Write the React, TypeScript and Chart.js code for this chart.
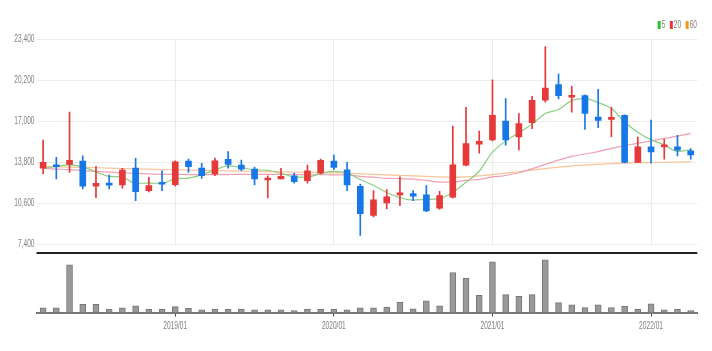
import React, { useEffect, useRef } from "react";
import { Chart, registerables } from "chart.js";
Chart.register(...registerables);

const months = [
  "2018/03", "2018/04", "2018/05", "2018/06", "2018/07", "2018/08", "2018/09", "2018/10", "2018/11", "2018/12",
  "2019/01", "2019/02", "2019/03", "2019/04", "2019/05", "2019/06", "2019/07", "2019/08", "2019/09", "2019/10", "2019/11", "2019/12",
  "2020/01", "2020/02", "2020/03", "2020/04", "2020/05", "2020/06", "2020/07", "2020/08", "2020/09", "2020/10", "2020/11", "2020/12",
  "2021/01", "2021/02", "2021/03", "2021/04", "2021/05", "2021/06", "2021/07", "2021/08", "2021/09", "2021/10", "2021/11", "2021/12",
  "2022/01", "2022/02", "2022/03", "2022/04",
];

const opens = [
  13325, 13560, 13612, 13868, 11907, 12163, 12008, 13325, 11566, 12217,
  12031, 13868, 13325, 12860, 14000, 13557, 13247, 12395, 12472, 12729,
  12341, 12938, 13868, 13194, 11907, 9628, 10612, 11232, 11333, 11232,
  10202, 11054, 13557, 15185, 15518, 17000, 15751, 16867, 18618, 19835,
  18851, 18983, 17300, 17122, 17433, 13767, 14976, 14976, 14976, 14666,
];
const highs = [
  15518, 14155, 17688, 14278, 13457, 12783, 13302, 14077, 12604, 13115,
  13890, 14023, 13690, 14100, 14620, 13945, 13400, 12729, 13302, 12938,
  13557, 14023, 14333, 13767, 12085, 11566, 11644, 12650, 11566, 11953,
  11520, 16603, 18076, 16216, 20223, 18750, 17588, 18929, 22803, 20664,
  19703, 19050, 19478, 18076, 17480, 15751, 17070, 15570, 15882, 14853,
];
const lows = [
  12860, 12470, 12992, 11698, 11023, 11698, 11752, 10790, 11465, 11566,
  11907, 12992, 12527, 12729, 13325, 13115, 12008, 10998, 12472, 12140,
  12140, 12860, 13192, 11566, 8078, 9505, 10147, 10400, 10790, 9930,
  10093, 10977, 13500, 14488, 15440, 15108, 14743, 16402, 18463, 18727,
  17688, 16348, 16480, 15782, 13720, 13767, 13713, 14023, 14278, 14023,
];
const closes = [
  13767, 13430, 13922, 11907, 12140, 11985, 13170, 11490, 11953, 12062,
  13813, 13426, 12729, 13891, 13612, 13247, 12472, 12550, 12683, 12264,
  13115, 13922, 13380, 12008, 9760, 10845, 11077, 11365, 11130, 9978,
  11179, 13581, 15239, 15418, 17433, 15518, 16790, 18618, 19579, 18983,
  18983, 17588, 17045, 17254, 13767, 14976, 14588, 15108, 14720, 14355,
];

const ma5 = [
  13300, 13450, 13580, 13420, 13033, 12677, 12625, 12138, 12148, 12132,
  12498, 12549, 12797, 13184, 13494, 13381, 13190, 13154, 12913, 12643,
  12617, 12907, 13073, 12938, 12437, 11983, 11414, 11011, 10835, 10879,
  10946, 11447, 12221, 13079, 14570, 15438, 16080, 16755, 17588, 17898,
  18591, 18750, 18436, 17971, 16927, 16126, 15526, 15139, 14632, 14749,
];
const ma20 = [
  13300, 13250, 13200, 13130, 13070, 13010, 12960, 12910, 12870, 12840,
  12830, 12820, 12810, 12810, 12820, 12830, 12830, 12830, 12830, 12826,
  12793, 12818, 12791, 12796, 12677, 12620, 12515, 12509, 12468, 12363,
  12232, 12239, 12365, 12441, 12632, 12746, 12962, 13265, 13610, 13946,
  14239, 14423, 14606, 14868, 15069, 15275, 15451, 15638, 15817, 16036,
];
const ma60 = [
  13450, 13420, 13400, 13380, 13350, 13320, 13290, 13260, 13240, 13210,
  13190, 13170, 13150, 13130, 13110, 13090, 13070, 13050, 13030, 13010,
  12990, 12970, 12950, 12930, 12880, 12840, 12800, 12760, 12720, 12680,
  12640, 12620, 12640, 12710, 12820, 12930, 13040, 13160, 13290, 13400,
  13500, 13560, 13620, 13670, 13710, 13740, 13760, 13780, 13800, 13815,
];

const volumes = [
  470, 470, 4800, 830, 830, 330, 470, 670, 330, 330,
  600, 430, 270, 330, 330, 330, 270, 270, 270, 200,
  330, 330, 330, 270, 470, 470, 530, 1030, 370, 1170,
  670, 4030, 3470, 1730, 5100, 1800, 1630, 1800, 5300, 1000,
  770, 500, 770, 500, 630, 330, 870, 270, 330, 200,
];

const legendItems = [
  { label: "5", color: "#33bb33" },
  { label: "20", color: "#e83535" },
  { label: "60", color: "#f7941d" },
];

const FONT = "'Liberation Sans', Arial, sans-serif";
const SQX = 0.6;
const TEXT_COLOR = "#808080";
const UP = "#e5393a";
const DOWN = "#1877e6";
const isJan = (i: number) => months[i] !== undefined && months[i].endsWith("/01");

function squishText(ctx: CanvasRenderingContext2D, text: string, x: number, y: number, align: CanvasTextAlign) {
  ctx.save();
  ctx.font = `11px ${FONT}`;
  ctx.fillStyle = TEXT_COLOR;
  ctx.textBaseline = "middle";
  ctx.textAlign = align;
  ctx.translate(x, y);
  ctx.scale(SQX, 1);
  ctx.fillText(text, 0, 0);
  ctx.restore();
}

export default function App() {
  const topRef = useRef<HTMLCanvasElement>(null);
  const volRef = useRef<HTMLCanvasElement>(null);

  useEffect(() => {
    const colors = opens.map((o, i) => (closes[i] >= o ? UP : DOWN));

    const topTextPlugin = {
      id: "topText",
      afterDraw(chart: any) {
        const ctx = chart.ctx as CanvasRenderingContext2D;
        // y labels
        const s = chart.scales.y;
        s.ticks.forEach((t: any) => {
          const y = s.getPixelForValue(t.value);
          squishText(ctx, Number(t.value).toLocaleString("en-US"), 34.5, y, "right");
        });
        // legend
        ctx.save();
        ctx.font = `11px ${FONT}`;
        let x = 697;
        for (let k = legendItems.length - 1; k >= 0; k--) {
          const it = legendItems[k];
          const w = ctx.measureText(it.label).width * SQX;
          x -= w;
          squishText(ctx, it.label, x, 25, "left");
          x -= 4;
          ctx.fillStyle = it.color;
          ctx.fillRect(x, 21, 3, 8);
          x -= 4.5;
        }
        ctx.restore();
      },
    };

    const top = new Chart(topRef.current!, {
      type: "bar",
      data: {
        labels: months,
        datasets: [
          {
            type: "line",
            data: ma5,
            borderColor: "rgba(130,205,120,0.95)",
            borderWidth: 1.2,
            pointRadius: 0,
            cubicInterpolationMode: "monotone",
            order: 3,
          } as any,
          {
            type: "line",
            data: ma20,
            borderColor: "rgba(240,150,170,0.9)",
            borderWidth: 1.2,
            pointRadius: 0,
            cubicInterpolationMode: "monotone",
            order: 3,
          } as any,
          {
            type: "line",
            data: ma60,
            borderColor: "rgba(248,190,140,0.9)",
            borderWidth: 1.2,
            pointRadius: 0,
            cubicInterpolationMode: "monotone",
            order: 3,
          } as any,
          {
            type: "bar",
            data: lows.map((l, i) => [l, highs[i]]),
            backgroundColor: colors,
            barThickness: 1,
            grouped: false,
            order: 2,
          } as any,
          {
            type: "bar",
            data: opens.map((o, i) => [o, closes[i]]),
            backgroundColor: colors,
            barThickness: 6,
            minBarLength: 2,
            grouped: false,
            order: 1,
          } as any,
        ],
      },
      options: {
        animation: false,
        responsive: false,
        layout: { padding: { top: 39, bottom: 6, left: 0, right: 14.7 } },
        plugins: { legend: { display: false }, tooltip: { enabled: false } },
        scales: {
          x: {
            offset: true,
            grid: {
              offset: false,
              drawTicks: false,
              color: (c: any) => (isJan(c.index) ? "#ececec" : "rgba(0,0,0,0)"),
            },
            ticks: { display: false, autoSkip: false },
            border: { display: false },
          },
          y: {
            min: 7400,
            max: 23400,
            ticks: {
              stepSize: 3200,
              callback: (v: any) => Number(v).toLocaleString("en-US"),
              font: { size: 10, family: FONT },
              color: "rgba(0,0,0,0)",
              padding: 2,
            },
            grid: { color: "#ececec", drawTicks: false },
            border: { display: false },
            afterFit: (s: any) => {
              s.width = 36.5;
            },
          },
        },
      } as any,
      plugins: [topTextPlugin],
    });

    const volPlugin = {
      id: "volDeco",
      afterDraw(chart: any) {
        const { ctx, chartArea } = chart;
        ctx.save();
        ctx.strokeStyle = "#222";
        ctx.lineWidth = 2;
        ctx.beginPath();
        ctx.moveTo(chartArea.left, 1);
        ctx.lineTo(chartArea.right, 1);
        ctx.stroke();
        ctx.restore();
        const s = chart.scales.x;
        s.ticks.forEach((t: any, i: number) => {
          const idx = t.value;
          if (isJan(idx)) {
            squishText(ctx, months[idx], s.getPixelForValue(idx), 74, "center");
          }
        });
      },
    };

    const vol = new Chart(volRef.current!, {
      type: "bar",
      data: {
        labels: months,
        datasets: [
          {
            data: volumes,
            backgroundColor: "#999",
            borderColor: "#777",
            borderWidth: 1,
            barThickness: 6,
          },
        ],
      },
      options: {
        animation: false,
        responsive: false,
        layout: { padding: { top: 1, bottom: 18.5, left: 36.5, right: 14.7 } },
        plugins: { legend: { display: false }, tooltip: { enabled: false } },
        scales: {
          x: {
            offset: true,
            grid: { offset: false, drawOnChartArea: false, color: "#444", tickLength: 4 },
            ticks: {
              autoSkip: false,
              maxRotation: 0,
              callback: (_v: any, i: number) => (isJan(i) ? months[i] : null),
              font: { size: 10, family: FONT },
              color: "rgba(0,0,0,0)",
              padding: 2,
            },
            border: { color: "#777", width: 2 },
          },
          y: { display: false, min: 0, max: 6000 },
        },
      } as any,
      plugins: [volPlugin],
    });

    return () => {
      top.destroy();
      vol.destroy();
    };
  }, []);

  return (
    <div style={{ position: "fixed", left: 0, top: 0, width: 712, height: 351, background: "#fff" }}>
      <canvas ref={topRef} width={712} height={252} style={{ display: "block" }} />
      <canvas ref={volRef} width={712} height={99} style={{ display: "block" }} />
    </div>
  );
}
